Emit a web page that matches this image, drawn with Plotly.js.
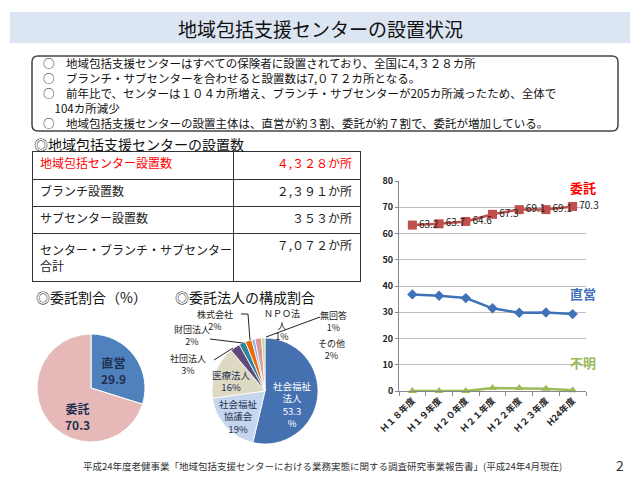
<!DOCTYPE html>
<html><head><meta charset="utf-8">
<script src="https://cdn.plot.ly/plotly-3.0.1.min.js"></script>
<style>html,body{margin:0;padding:0;background:#fff}#c{width:640px;height:490px}</style>
</head><body><div id="c"></div>
<script>
// ---- data ----
const slideTitle = "地域包括支援センターの設置状況";
const bullets = [
  "○　地域包括支援センターはすべての保険者に設置されており、全国に4,３２８カ所",
  "○　ブランチ・サブセンターを合わせると設置数は7,０７２カ所となる。",
  "○　前年比で、センターは１０４カ所増え、ブランチ・サブセンターが205カ所減ったため、全体で",
  "\u3000104カ所減少",
  "○　地域包括支援センターの設置主体は、直営が約３割、委託が約７割で、委託が増加している。"
];
const tableTitle = "◎地域包括支援センターの設置数";
const tableLabels = ["地域包括センター設置数", "ブランチ設置数", "サブセンター設置数", "センター・ブランチ・サブセンター<br>合計"];
const tableValues = ["４,３２８か所", "２,３９１か所", "３５３か所", "７,０７２か所"];

const years = ["Ｈ１８年度", "Ｈ１９年度", "Ｈ２０年度", "Ｈ２１年度", "Ｈ２２年度", "Ｈ２３年度", "H24年度"];
const itaku = [63.2, 63.7, 64.6, 67.3, 69.1, 69.1, 70.3];
const chokuei = [36.8, 36.3, 35.4, 31.5, 29.8, 29.9, 29.3];
const fumei = [0, 0, 0, 1.1, 1.1, 0.9, 0.3];

const pie1Title = "◎委託割合（%）";
const pie1Labels = ["直営", "委託"];
const pie1Values = [29.9, 70.3];

const pie2Title = "◎委託法人の構成割合";
const pie2Labels = ["社会福祉法人", "社会福祉協議会", "医療法人", "社団法人", "財団法人", "株式会社", "ＮＰＯ法人", "その他", "無回答"];
const pie2Values = [53.3, 19, 16, 3, 2, 2, 1, 2, 1];
const pie2Text = ["53.3%", "19%", "16%", "3%", "2%", "2%", "1%", "2%", "1%"];

const footnote = "平成24年度老健事業「地域包括支援センターにおける業務実態に関する調査研究事業報告書」(平成24年4月現在)";
const pageNo = "2";

// ---- helpers ----
const W = 640, H = 490;
const X = p => p / W;
const Y = p => 1 - p / H;
const F = '"Noto Sans CJK JP", "Noto Sans", sans-serif';

function ann(text, px, py, opt) {
  return Object.assign({
    text: text, x: X(px), y: Y(py), xref: 'paper', yref: 'paper',
    showarrow: false, xanchor: 'center', yanchor: 'middle', borderpad: 0,
    font: {family: F, size: 12, color: '#222'}
  }, opt || {});
}

// ---- traces ----
const traces = [];

traces.push({
  type: 'table',
  domain: {x: [X(32), X(360)], y: [Y(300), Y(151)]},
  columnwidth: [201, 127],
  header: {
    values: [[tableLabels[0]], [tableValues[0]]],
    align: ['left', 'right'],
    height: 28,
    line: {color: '#333', width: 1},
    fill: {color: '#fff'},
    font: {family: F, size: 12, color: '#FF0000'}
  },
  cells: {
    values: [tableLabels.slice(1), tableValues.slice(1)],
    align: ['left', 'right'],
    height: 27,
    line: {color: '#333', width: 1},
    fill: {color: '#fff'},
    font: {family: F, size: 12, color: '#222'}
  }
});

traces.push({
  type: 'scatter', mode: 'lines+markers+text', x: years, y: itaku,
  line: {color: '#C0504D', width: 2.5},
  marker: {symbol: 'square', size: 9, color: '#C0504D'},
  text: itaku.map(v => v.toFixed(1)), textposition: 'middle right',
  textfont: {family: F, size: 10, color: '#222'}, cliponaxis: false,
  xaxis: 'x', yaxis: 'y'
});
traces.push({
  type: 'scatter', mode: 'lines+markers', x: years, y: chokuei,
  line: {color: '#3F72B9', width: 2.5},
  marker: {symbol: 'diamond', size: 8, color: '#3F72B9'},
  xaxis: 'x', yaxis: 'y'
});
traces.push({
  type: 'scatter', mode: 'lines+markers', x: years, y: fumei,
  line: {color: '#9BBB59', width: 2.5},
  marker: {symbol: 'triangle-up', size: 8, color: '#9BBB59'},
  cliponaxis: false,
  xaxis: 'x', yaxis: 'y'
});

traces.push({
  type: 'pie', labels: pie1Labels, values: pie1Values,
  sort: false, direction: 'clockwise', rotation: 0,
  marker: {colors: ['#4F81BD', '#E6B9B8'], line: {color: '#fff', width: 1}},
  textinfo: 'none', hoverinfo: 'none',
  domain: {x: [X(37), X(145)], y: [Y(442), Y(334)]}
});

traces.push({
  type: 'pie', labels: pie2Labels, values: pie2Values,
  sort: false, direction: 'clockwise', rotation: 0,
  marker: {colors: ['#4671B0', '#C6D6EE', '#DDD9C3', '#604A7B', '#31849B', '#E46C0A', '#8EB4E3', '#D99795', '#C3D69B'],
           line: {color: '#fff', width: 0.8}},
  textinfo: 'none', hoverinfo: 'none',
  domain: {x: [X(212), X(318)], y: [Y(444), Y(338)]}
});

// ---- annotations ----
const annotations = [];
annotations.push(ann(slideTitle, 320, 28, {font: {family: F, size: 19, color: '#111'}}));
annotations.push(ann(bullets.join('<br>'), 42, 93, {xanchor: 'left', align: 'left', font: {family: F, size: 11.5, color: '#111'}}));
annotations.push(ann(tableTitle, 33, 144, {xanchor: 'left', font: {family: F, size: 14, color: '#111'}}));
annotations.push(ann(pie1Title, 35, 297, {xanchor: 'left', font: {family: F, size: 14, color: '#111'}}));
annotations.push(ann(pie2Title, 174, 297, {xanchor: 'left', font: {family: F, size: 14, color: '#111'}}));

// pie1 labels
const navy = '#1F3050';
annotations.push(ann(pie1Labels[0] + '<br>' + pie1Values[0].toFixed(1), 113, 370, {font: {family: F, size: 12, color: navy, weight: 'bold'}}));
annotations.push(ann(pie1Labels[1] + '<br>' + pie1Values[1].toFixed(1), 77, 416, {font: {family: F, size: 12, color: navy, weight: 'bold'}}));

// pie2 inside labels
annotations.push(ann('社会福祉<br>法人<br>53.3<br>%', 292, 404, {font: {family: F, size: 9.5, color: '#fff'}}));
annotations.push(ann('社会福祉<br>協議会<br>' + pie2Text[1], 238, 416, {font: {family: F, size: 9.5, color: navy}}));
annotations.push(ann(pie2Labels[2] + '<br>' + pie2Text[2], 231, 381, {font: {family: F, size: 9.5, color: navy}}));
// pie2 outside labels
const small = {family: F, size: 9, color: '#222'};
annotations.push(ann(pie2Labels[3] + '<br>' + pie2Text[3], 188, 364, {font: small}));
annotations.push(ann(pie2Labels[4] + '<br>' + pie2Text[4], 192, 335, {font: small}));
annotations.push(ann(pie2Labels[5] + '<br>' + pie2Text[5], 215, 320, {font: small}));
annotations.push(ann('ＮＰＯ法<br>人<br>' + pie2Text[6], 282, 325, {font: small}));
annotations.push(ann(pie2Labels[7] + '<br>' + pie2Text[7], 331, 349, {font: small}));
annotations.push(ann(pie2Labels[8] + '<br>' + pie2Text[8], 333, 321, {font: small}));

// line chart series labels
annotations.push(ann('委託', 583, 187, {font: {family: F, size: 13, color: '#FF0000', weight: 'bold'}}));
annotations.push(ann('直営', 583, 293, {font: {family: F, size: 13, color: '#3F72B9', weight: 'bold'}}));
annotations.push(ann('不明', 583, 362, {font: {family: F, size: 13, color: '#9BBB59', weight: 'bold'}}));

annotations.push(ann(footnote, 322, 466, {font: {family: F, size: 9.5, color: '#333'}}));
annotations.push(ann(pageNo, 620, 465, {font: {family: F, size: 14, color: '#333'}}));

// ---- shapes ----
function rrect(x0, y0, x1, y1, r) {
  const rx = r / W, ry = r / H;
  const a = X(x0), b = X(x1), t = Y(y0), u = Y(y1);
  return `M ${a + rx},${t} L ${b - rx},${t} Q ${b},${t} ${b},${t - ry} L ${b},${u + ry} Q ${b},${u} ${b - rx},${u} L ${a + rx},${u} Q ${a},${u} ${a},${u + ry} L ${a},${t - ry} Q ${a},${t} ${a + rx},${t} Z`;
}
function poly(pts) {
  return pts.map((p, i) => (i ? 'L ' : 'M ') + X(p[0]) + ',' + Y(p[1])).join(' ');
}
const shapes = [
  {type: 'rect', xref: 'paper', yref: 'paper', x0: X(10), x1: X(630), y0: Y(43), y1: Y(12), fillcolor: '#DCE6F2', line: {width: 0}, layer: 'below'},
  {type: 'path', xref: 'paper', yref: 'paper', path: rrect(32, 56, 618, 131, 6), line: {color: '#444', width: 1.5}},
  {type: 'path', xref: 'paper', yref: 'paper', path: poly([[241, 314], [248, 314], [250, 340]]), line: {color: '#222', width: 1}},
  {type: 'path', xref: 'paper', yref: 'paper', path: poly([[210, 339], [243, 343]]), line: {color: '#222', width: 1}},
  {type: 'path', xref: 'paper', yref: 'paper', path: poly([[214, 360], [233, 348]]), line: {color: '#222', width: 1}},
  {type: 'path', xref: 'paper', yref: 'paper', path: poly([[320, 317], [266, 337]]), line: {color: '#222', width: 1}}
];

const layout = {
  width: W, height: H,
  margin: {l: 0, r: 0, t: 0, b: 0},
  paper_bgcolor: '#fff', plot_bgcolor: 'rgba(0,0,0,0)',
  showlegend: false,
  font: {family: F},
  xaxis: {
    domain: [X(399), X(586)], anchor: 'y', type: 'category', range: [-0.5, 6.5],
    tickangle: -45, tickfont: {family: F, size: 9, color: '#222', weight: 'bold'},
    showgrid: false, showline: true, linecolor: '#888', linewidth: 1,
    ticks: 'outside', tickson: 'boundaries', ticklen: 4, tickcolor: '#888', fixedrange: true
  },
  yaxis: {
    domain: [Y(391), Y(181)], anchor: 'x', range: [0, 80], dtick: 10,
    tickfont: {family: F, size: 9, color: '#222', weight: 'bold'},
    showgrid: true, gridcolor: '#BDBDBD', gridwidth: 1,
    showline: true, linecolor: '#888', linewidth: 1, zeroline: false,
    ticks: 'outside', ticklen: 3, tickcolor: '#888', fixedrange: true
  },
  annotations: annotations,
  shapes: shapes
};

Plotly.newPlot('c', traces, layout, {displayModeBar: false, staticPlot: true});
</script>
</body></html>
